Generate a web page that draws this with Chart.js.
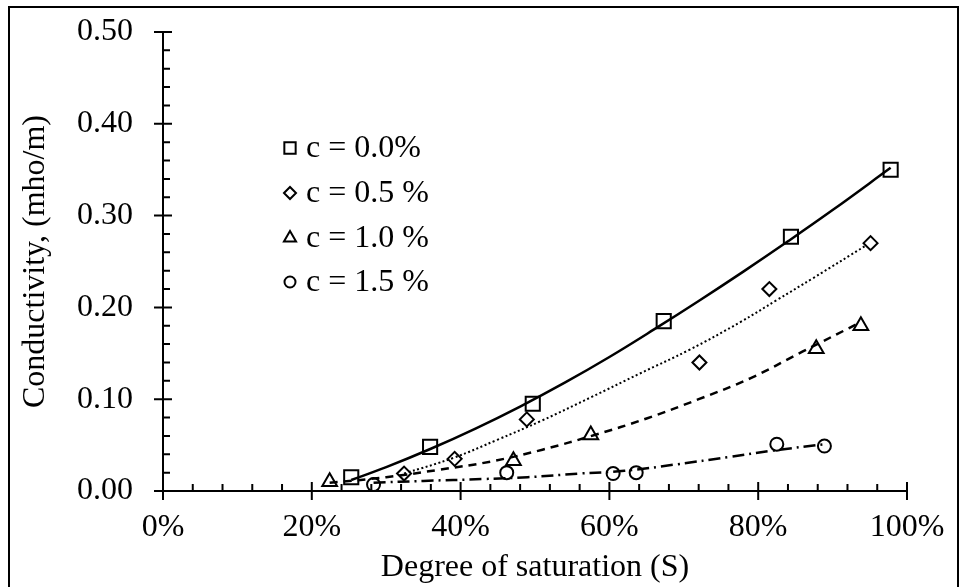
<!DOCTYPE html>
<html lang="en">
<head>
  <meta charset="UTF-8" />
  <title>Conductivity vs degree of saturation</title>
  <script src="https://cdn.jsdelivr.net/npm/chart.js"></script>
  <style>
    body { margin: 0; background: #fff; }
    #wrap { position: relative; width: 966px; height: 587px; }
  </style>
</head>
<body>
  <div id="wrap"><canvas id="chart" width="966" height="587"></canvas></div>

  <script>
    // measured points (S in %, conductivity in mho/m)
    const s00 = [25.3, 35.9, 49.7, 67.3, 84.4, 97.8];
    const k00 = [0.015, 0.048, 0.095, 0.185, 0.277, 0.350];
    const s05 = [32.4, 39.2, 48.9, 72.1, 81.5, 95.1];
    const k05 = [0.019, 0.035, 0.078, 0.140, 0.220, 0.270];
    const s10 = [22.4, 47.1, 57.5, 87.8, 93.8];
    const k10 = [0.010, 0.033, 0.061, 0.155, 0.180];
    const s15 = [28.3, 46.2, 60.5, 63.6, 82.5, 88.9];
    const k15 = [0.007, 0.020, 0.019, 0.020, 0.051, 0.049];

    // trend curves
    const fitS00 = [25.3, 30, 36, 42, 48, 54, 60, 66, 72, 78, 84, 90, 97.8];
    const fitK00 = [0.012, 0.026, 0.046, 0.068, 0.092, 0.118, 0.146, 0.176, 0.207, 0.239, 0.272, 0.306, 0.352];
    const fitS05 = [32.4, 39, 45, 51, 57.5, 64.1, 70.8, 77.6, 82.5, 87.4, 94.6];
    const fitK05 = [0.019, 0.036, 0.056, 0.077, 0.102, 0.128, 0.154, 0.184, 0.208, 0.232, 0.268];
    const fitS10 = [22.4, 30, 37, 44, 51, 58, 65, 72, 79, 86, 93.8];
    const fitK10 = [0.009, 0.015, 0.023, 0.032, 0.045, 0.061, 0.079, 0.100, 0.123, 0.152, 0.184];
    const fitS15 = [28.3, 35, 43, 49, 56, 62, 69, 76, 82, 88.9];
    const fitK15 = [0.009, 0.011, 0.013, 0.015, 0.019, 0.022, 0.029, 0.037, 0.044, 0.051];

    const legendLabels = ['c = 0.0%', 'c = 0.5 %', 'c = 1.0 %', 'c = 1.5 %'];
    const xTicks = [0, 20, 40, 60, 80, 100];
    const yTicks = [0, 0.1, 0.2, 0.3, 0.4, 0.5];

    const FONT = "'Liberation Serif', 'Times New Roman', serif";
    const FS = 32;
    const pts = (xs, ys) => xs.map((x, i) => ({ x: x, y: ys[i] }));

    function marks(label, xs, ys, style, r) {
      return {
        label: label, data: pts(xs, ys), showLine: false,
        pointStyle: style, pointRadius: r, pointHoverRadius: r,
        pointBorderColor: '#000', pointBackgroundColor: 'rgba(0,0,0,0)', pointBorderWidth: 2
      };
    }
    function curve(xs, ys, dash, w) {
      return {
        label: '', data: pts(xs, ys), showLine: true, pointRadius: 0,
        borderColor: '#000', borderWidth: w, borderDash: dash,
        tension: 0.4, fill: false
      };
    }

    // axis ticks: majors cross the axis, minors point inward
    const tickMarks = {
      id: 'tickMarks',
      afterDraw(chart) {
        const ctx = chart.ctx, xs = chart.scales.x, ys = chart.scales.y;
        const a = chart.chartArea;
        ctx.save();
        ctx.strokeStyle = '#000';
        ctx.lineWidth = 2;
        ctx.beginPath();
        for (let i = 0; i <= 25; i++) {
          const px = xs.getPixelForValue(i * 4);
          const major = i % 5 === 0;
          ctx.moveTo(px, a.bottom + (major ? 9 : 0));
          ctx.lineTo(px, a.bottom - (major ? 9 : 7));
        }
        for (let i = 0; i <= 25; i++) {
          const py = ys.getPixelForValue(i * 0.02);
          const major = i % 5 === 0;
          ctx.moveTo(a.left - (major ? 9 : 0), py);
          ctx.lineTo(a.left + (major ? 9 : 7), py);
        }
        ctx.stroke();
        // outer frame
        ctx.strokeRect(9, 7, 949, 700);
        ctx.restore();
      }
    };

    // legend placed inside the plot
    const innerLegend = {
      id: 'innerLegend',
      afterDraw(chart) {
        const ctx = chart.ctx;
        const rows = [148, 193, 238, 282];
        const sizes = [8, 6, 7, 5.5];
        ctx.save();
        ctx.font = FS + 'px ' + FONT;
        ctx.textBaseline = 'middle';
        for (let i = 0; i < 4; i++) {
          const ds = chart.data.datasets[i];
          ctx.strokeStyle = '#000';
          ctx.lineWidth = 2;
          ctx.fillStyle = 'rgba(0,0,0,0)';
          Chart.helpers.drawPoint(ctx, { pointStyle: ds.pointStyle, radius: sizes[i], borderWidth: 2 }, 290, rows[i]);
          ctx.fillStyle = '#000';
          ctx.fillText(legendLabels[i], 306, rows[i] + 1);
        }
        ctx.restore();
      }
    };

    new Chart(document.getElementById('chart'), {
      type: 'scatter',
      data: {
        datasets: [
          marks(legendLabels[0], s00, k00, 'rect', 10),
          marks(legendLabels[1], s05, k05, 'rectRot', 7),
          marks(legendLabels[2], s10, k10, 'triangle', 8.5),
          marks(legendLabels[3], s15, k15, 'circle', 6.5),
          curve(fitS00, fitK00, [], 2.5),
          curve(fitS05, fitK05, [2, 2.5], 2),
          curve(fitS10, fitK10, [8, 6], 2.5),
          curve(fitS15, fitK15, [12, 5, 2, 5], 2.5)
        ]
      },
      options: {
        responsive: false,
        animation: false,
        layout: { padding: { left: 0, right: 59, top: 32, bottom: 0 } },
        plugins: { legend: { display: false }, tooltip: { enabled: false } },
        scales: {
          x: {
            type: 'linear', min: 0, max: 100,
            afterFit: s => { s.height = 96; },
            afterBuildTicks: s => { s.ticks = xTicks.map(v => ({ value: v })); },
            grid: { display: false, drawTicks: true, tickLength: 13 },
            border: { display: true, color: '#000', width: 2 },
            ticks: { color: '#000', padding: 4, maxRotation: 0, font: { family: FONT, size: FS }, callback: v => v + '%' },
            title: { display: true, text: 'Degree of saturation (S)', color: '#000', padding: { top: 0, bottom: 0 }, font: { family: FONT, size: FS } }
          },
          y: {
            type: 'linear', min: 0, max: 0.5,
            afterFit: s => { s.width = 163; },
            afterBuildTicks: s => { s.ticks = yTicks.map(v => ({ value: v })); },
            grid: { display: false, drawTicks: true, tickLength: 26 },
            border: { display: true, color: '#000', width: 2 },
            ticks: { color: '#000', padding: 4, font: { family: FONT, size: FS }, callback: v => v.toFixed(2) },
            title: { display: true, text: 'Conductivity, (mho/m)', color: '#000', padding: { top: 16, bottom: 0 }, font: { family: FONT, size: FS } }
          }
        }
      },
      plugins: [tickMarks, innerLegend]
    });
  </script>
</body>
</html>
